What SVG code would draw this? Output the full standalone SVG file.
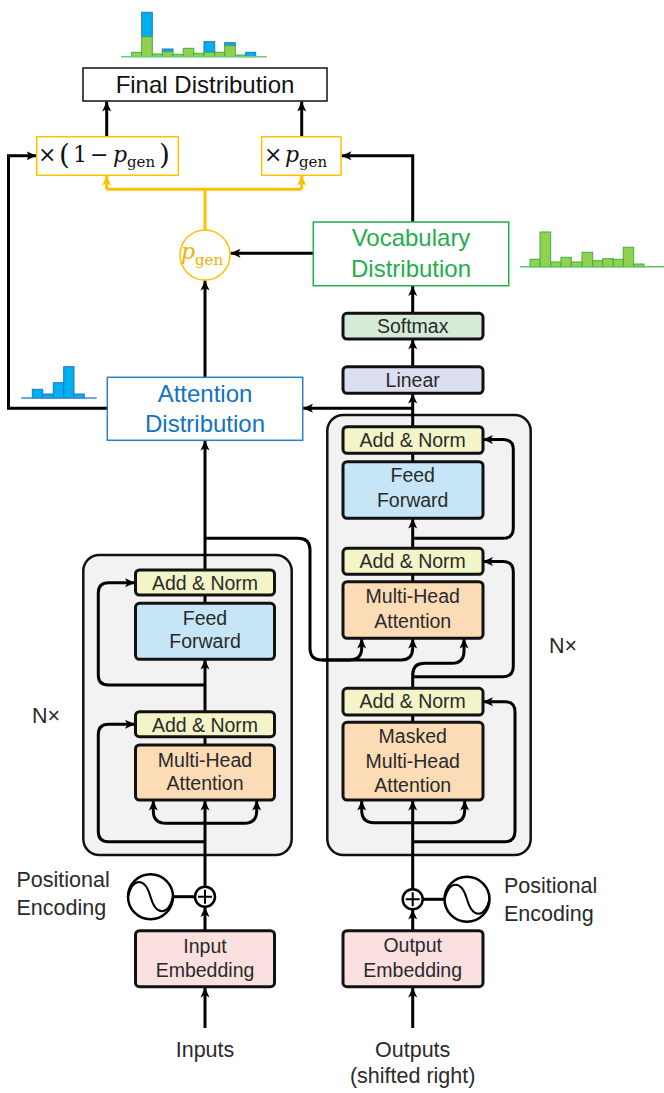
<svg xmlns="http://www.w3.org/2000/svg" width="664" height="1093" viewBox="0 0 664 1093">
<style>
.t{font-family:"Liberation Sans",Arial,sans-serif;font-size:19.5px;fill:#2a2a2a;text-anchor:middle}
.big{font-family:"Liberation Sans",Arial,sans-serif;font-size:24px;text-anchor:middle}
.lbl{font-family:"Liberation Sans",Arial,sans-serif;font-size:21.5px;fill:#2a2a2a}
.m{font-family:"DejaVu Serif","Liberation Serif",serif;font-size:22px;fill:#111}
.mp{font-family:"DejaVu Serif","Liberation Serif",serif;font-size:28px;fill:#111}
.ms{font-family:"DejaVu Serif","Liberation Serif",serif;font-size:15px;fill:#111}
.box{stroke:#111;stroke-width:3}
.blk{fill:#f2f2f2;stroke:#111;stroke-width:2.5}
.w{fill:none;stroke:#000;stroke-width:3}
.wa{fill:none;stroke:#000;stroke-width:3;marker-end:url(#ah)}
.y{fill:none;stroke:#ffc000;stroke-width:3}
.ya{fill:none;stroke:#ffc000;stroke-width:3;marker-end:url(#ay)}
.gb{fill:#92d050;stroke:#3cb043;stroke-width:1}
.bb{fill:#00b0f0;stroke:#1e78c2;stroke-width:1}
.an{fill:#f3f5c8}.ff{fill:#c6e6f7}.mh{fill:#fcdcb6}.em{fill:#fbe0e0}.sm{fill:#d5ebd7}.ln{fill:#dcdff0}
</style>
<defs>
<marker id="ah" markerUnits="userSpaceOnUse" markerWidth="10" markerHeight="10" refX="10" refY="5" orient="auto"><path d="M0,0.5 L10,5 L0,9.5 L2.5,5 z" fill="#000"/></marker>
<marker id="ay" markerUnits="userSpaceOnUse" markerWidth="10" markerHeight="10" refX="10" refY="5" orient="auto"><path d="M0,0.5 L10,5 L0,9.5 L2.5,5 z" fill="#ffc000"/></marker>
</defs>

<!-- blocks -->
<g id="encoder-block"><rect class="blk" x="83.3" y="555" width="208.4" height="300" rx="16"/><text class="lbl" x="32" y="723">N×</text></g>
<g id="decoder-block"><rect class="blk" x="327.3" y="415" width="203.4" height="440" rx="16"/><text class="lbl" x="549" y="653">N×</text></g>

<!-- connectors -->
<g id="connectors">
<path class="wa" d="M205,1028 V987.5"/>
<path class="wa" d="M412.7,1028 V987.5"/>
<path class="wa" d="M205,930.7 V907"/>
<path class="wa" d="M412.7,930.7 V909.5"/>
<path class="w" d="M173,896.7 H195"/>
<path class="w" d="M422.7,899.3 H444.2"/>
<!-- encoder -->
<path class="wa" d="M205,886.7 V800.5"/>
<path class="wa" d="M205,823.3 H166 Q153.3,823.3 153.3,811 V800.5"/>
<path class="wa" d="M205,823.3 H244 Q256.7,823.3 256.7,811 V800.5"/>
<path class="wa" d="M205,841.7 H108.5 Q98.3,841.7 98.3,831.5 V734.5 Q98.3,724.2 108.5,724.2 H135"/>
<path class="w" d="M205,745 V736.7"/>
<path class="wa" d="M205,711.7 V659.5"/>
<path class="wa" d="M205,685 H108.5 Q98.3,685 98.3,675 V593 Q98.3,582.7 108.5,582.7 H135"/>
<path class="w" d="M205,603.3 V595"/>
<path class="wa" d="M205,570 V440.5"/>
<path class="w" d="M205,538.3 H298 Q310,538.3 310,550 V648 Q310,660 322,660 H349"/>
<path class="wa" d="M322,660 H349 Q361.7,660 361.7,648 V638.5"/>
<path class="wa" d="M349,660 H401 Q412.7,660 412.7,648 V638.5"/>
<!-- decoder -->
<path class="wa" d="M412.7,889.3 V800.5"/>
<path class="wa" d="M412.7,822.7 H374 Q361.7,822.7 361.7,810 V800.5"/>
<path class="wa" d="M412.7,822.7 H452 Q464.7,822.7 464.7,810 V800.5"/>
<path class="wa" d="M412.7,841.7 H505 Q515,841.7 515,831 V712 Q515,701.7 505,701.7 H483"/>
<path class="w" d="M412.7,722.3 V715"/>
<path class="wa" d="M412.7,688.3 V675 Q412.7,663.3 424.5,663.3 H452 Q464,663.3 464,651 V638.5"/>
<path class="wa" d="M412.7,676.7 H503 Q513.3,676.7 513.3,666 V572 Q513.3,561.5 503,561.5 H483"/>
<path class="w" d="M412.7,581.7 V574.3"/>
<path class="wa" d="M412.7,548.3 V518.5"/>
<path class="wa" d="M412.7,538.3 H503 Q513.3,538.3 513.3,528 V449.5 Q513.3,439.5 503,439.5 H483"/>
<path class="w" d="M412.7,461.7 V453.3"/>
<path class="wa" d="M412.7,426.7 V393.5"/>
<path class="wa" d="M412.7,408.3 H303"/>
<path class="wa" d="M412.7,366.7 V339.3"/>
<path class="wa" d="M412.7,313.3 V286"/>
<!-- top -->
<path class="wa" d="M412.7,222 V155.7 H341.5"/>
<path class="wa" d="M313.3,253.3 H230.5"/>
<path class="wa" d="M205,377.3 V280.5"/>
<path class="wa" d="M107.3,408.3 H8.5 V155.7 H36.5"/>
<path class="wa" d="M106.7,136.7 V101.5"/>
<path class="wa" d="M301.7,136.7 V101.5"/>
<path class="y" d="M205,230 V189.3 M106.7,189.3 H301.7"/>
<path class="ya" d="M106.7,189.3 V175.5"/>
<path class="ya" d="M301.7,189.3 V175.5"/>
</g>

<!-- embeddings & PE -->
<g id="input-embedding"><rect class="box em" x="135.5" y="930.7" width="139" height="56" rx="4"/><text class="t" x="205" y="952.7">Input</text><text class="t" x="205" y="976.7">Embedding</text></g>
<g id="output-embedding"><rect class="box em" x="343" y="930.7" width="140" height="56" rx="4"/><text class="t" x="412.7" y="951.7">Output</text><text class="t" x="412.7" y="977">Embedding</text></g>
<g id="inputs"><text class="lbl" x="205" y="1057" text-anchor="middle">Inputs</text></g>
<g id="outputs"><text class="lbl" x="412.7" y="1057" text-anchor="middle">Outputs</text><text class="lbl" x="412.7" y="1083" text-anchor="middle">(shifted right)</text></g>
<g id="enc-plus"><circle cx="205" cy="896.7" r="10" fill="#fff" stroke="#000" stroke-width="2.5"/><path d="M198,896.7 H212 M205,889.7 V903.7" stroke="#000" stroke-width="2"/></g>
<g id="dec-plus"><circle cx="412.7" cy="899.3" r="10" fill="#fff" stroke="#000" stroke-width="2.5"/><path d="M405.7,899.3 H419.7 M412.7,892.3 V906.3" stroke="#000" stroke-width="2"/></g>
<g id="enc-pe"><circle cx="150.5" cy="896.7" r="22.5" fill="#fff" stroke="#000" stroke-width="2.5"/><path d="M128,896.7 C133,877 145,877 150.5,896.7 C156,916 168,916 173,896.7" fill="none" stroke="#000" stroke-width="2"/><text class="lbl" x="16.5" y="887">Positional</text><text class="lbl" x="16.5" y="915">Encoding</text></g>
<g id="dec-pe"><circle cx="467" cy="899.3" r="22.5" fill="#fff" stroke="#000" stroke-width="2.5"/><path d="M444.5,899.3 C449.5,880 461.5,880 467,899.3 C472.5,918.5 484.5,918.5 489.5,899.3" fill="none" stroke="#000" stroke-width="2"/><text class="lbl" x="504" y="893">Positional</text><text class="lbl" x="504" y="921">Encoding</text></g>

<!-- encoder nodes -->
<g id="enc-mha"><rect class="box mh" x="135.5" y="745" width="139" height="55" rx="4"/><text class="t" x="205" y="766.7">Multi-Head</text><text class="t" x="205" y="790">Attention</text></g>
<g id="enc-addnorm1"><rect class="box an" x="135.5" y="711.7" width="139" height="25" rx="4"/><text class="t" x="205" y="731.5">Add &amp; Norm</text></g>
<g id="enc-ff"><rect class="box ff" x="135.5" y="603.3" width="139" height="56" rx="4"/><text class="t" x="205" y="625">Feed</text><text class="t" x="205" y="648.3">Forward</text></g>
<g id="enc-addnorm2"><rect class="box an" x="135.5" y="570" width="139" height="25" rx="4"/><text class="t" x="205" y="589.8">Add &amp; Norm</text></g>

<!-- decoder nodes -->
<g id="dec-masked-mha"><rect class="box mh" x="343" y="722.3" width="140" height="77.7" rx="4"/><text class="t" x="412.7" y="743.3">Masked</text><text class="t" x="412.7" y="767.8">Multi-Head</text><text class="t" x="412.7" y="791.5">Attention</text></g>
<g id="dec-addnorm1"><rect class="box an" x="343" y="688.3" width="140" height="26.7" rx="4"/><text class="t" x="412.7" y="708.3">Add &amp; Norm</text></g>
<g id="dec-mha"><rect class="box mh" x="343" y="581.7" width="140" height="56.6" rx="4"/><text class="t" x="412.7" y="603.3">Multi-Head</text><text class="t" x="412.7" y="628.3">Attention</text></g>
<g id="dec-addnorm2"><rect class="box an" x="343" y="548.3" width="140" height="26" rx="4"/><text class="t" x="412.7" y="567.5">Add &amp; Norm</text></g>
<g id="dec-ff"><rect class="box ff" x="343" y="461.7" width="140" height="56.6" rx="4"/><text class="t" x="412.7" y="481.7">Feed</text><text class="t" x="412.7" y="507.3">Forward</text></g>
<g id="dec-addnorm3"><rect class="box an" x="343" y="426.7" width="140" height="26.6" rx="4"/><text class="t" x="412.7" y="446.7">Add &amp; Norm</text></g>
<g id="linear"><rect class="box ln" x="343" y="366.7" width="140" height="26.6" rx="4"/><text class="t" x="412.7" y="387.3">Linear</text></g>
<g id="softmax"><rect class="box sm" x="343" y="313.3" width="140" height="25.7" rx="4"/><text class="t" x="412.7" y="333.3">Softmax</text></g>

<!-- distributions -->
<g id="vocab-dist"><rect x="313.3" y="222" width="195.4" height="63.7" fill="#fff" stroke="#1fae4b" stroke-width="1.5"/><text class="big" x="411" y="245.5" fill="#1fae4b">Vocabulary</text><text class="big" x="411" y="277" fill="#1fae4b">Distribution</text></g>
<g id="vocab-hist">
<rect class="gb" x="530" y="259.3" width="10" height="7.4"/><rect class="gb" x="540" y="232" width="10.7" height="34.7"/><rect class="gb" x="550.7" y="262" width="10.3" height="4.7"/><rect class="gb" x="561" y="257.3" width="10.3" height="9.4"/><rect class="gb" x="571.3" y="262" width="10.7" height="4.7"/><rect class="gb" x="582" y="252.3" width="10.7" height="14.4"/><rect class="gb" x="592.7" y="260.7" width="10" height="6"/><rect class="gb" x="602.7" y="258.7" width="10.6" height="8"/><rect class="gb" x="613.3" y="259.3" width="10" height="7.4"/><rect class="gb" x="623.3" y="247.3" width="10.4" height="19.4"/><rect class="gb" x="633.7" y="264" width="10.3" height="2.7"/>
<path d="M520,266.7 H664" stroke="#5cc46a" stroke-width="1.5"/></g>
<g id="attn-dist"><rect x="107.3" y="377.3" width="195.4" height="63" fill="#fff" stroke="#2a7fc6" stroke-width="1.5"/><text class="big" x="205" y="402.3" fill="#1173c2">Attention</text><text class="big" x="205" y="431.7" fill="#1173c2">Distribution</text></g>
<g id="attn-hist">
<rect class="bb" x="32.3" y="389.3" width="10.4" height="8.7"/><rect class="bb" x="42.7" y="394" width="10.6" height="4"/><rect class="bb" x="53.3" y="382.7" width="10.4" height="15.3"/><rect class="bb" x="63.7" y="366.7" width="10.3" height="31.3"/><rect class="bb" x="74" y="394" width="10.3" height="4"/>
<path d="M21.3,398 H96.7" stroke="#3a8ad6" stroke-width="1.5"/></g>
<g id="pgen"><circle cx="205" cy="255" r="25" fill="#fff" stroke="#ffc000" stroke-width="1.5"/><text x="181" y="259" font-family="DejaVu Serif,Liberation Serif,serif" font-size="22" font-style="italic" fill="#f0b000">p</text><text x="195" y="265" font-family="DejaVu Serif,Liberation Serif,serif" font-size="15" fill="#f0b000">gen</text></g>
<g id="one-minus"><rect x="36.7" y="136.7" width="141.6" height="38.6" fill="#fff" stroke="#ffc000" stroke-width="1.5"/><text class="m" x="38" y="162">×</text><text class="mp" x="59" y="164">(</text><text class="m" x="73" y="162">1</text><text class="m" x="90" y="162">−</text><text class="m" x="113" y="162" font-style="italic">p</text><text class="ms" x="127" y="167">gen</text><text class="mp" x="159" y="164">)</text></g>
<g id="times-pgen"><rect x="261.7" y="136.7" width="79.3" height="38.6" fill="#fff" stroke="#ffc000" stroke-width="1.5"/><text class="m" x="264" y="162">×</text><text class="m" x="285" y="162" font-style="italic">p</text><text class="ms" x="299" y="167">gen</text></g>
<g id="final-dist"><rect x="83" y="68" width="244" height="33" fill="#fff" stroke="#111" stroke-width="1.5"/><text class="big" x="205" y="93" fill="#111">Final Distribution</text></g>
<g id="final-hist">
<rect class="gb" x="131.7" y="52.3" width="10" height="4.4"/>
<rect class="bb" x="141.7" y="12.3" width="10.6" height="24.4"/><rect class="gb" x="141.7" y="36.7" width="10.6" height="20"/>
<rect class="gb" x="152.3" y="54" width="10" height="2.7"/>
<rect class="bb" x="162.3" y="49" width="10.7" height="2.7"/><rect class="gb" x="162.3" y="51.7" width="10.7" height="5"/>
<rect class="gb" x="173" y="54.3" width="10.3" height="2.4"/>
<rect class="gb" x="183.3" y="48.3" width="10.4" height="8.4"/>
<rect class="gb" x="193.7" y="53.3" width="10.3" height="3.4"/>
<rect class="bb" x="204" y="41.7" width="10.7" height="10.6"/><rect class="gb" x="204" y="52.3" width="10.7" height="4.4"/>
<rect class="gb" x="214.7" y="52.3" width="10" height="4.4"/>
<rect class="bb" x="224.7" y="42.7" width="10.6" height="3"/><rect class="gb" x="224.7" y="45.7" width="10.6" height="11"/>
<rect class="gb" x="235.3" y="55" width="10.4" height="1.7"/>
<rect class="bb" x="245.7" y="52.3" width="10" height="4.4"/>
<path d="M121,56.7 H267" stroke="#6fcf7f" stroke-width="1.5"/></g>
</svg>
